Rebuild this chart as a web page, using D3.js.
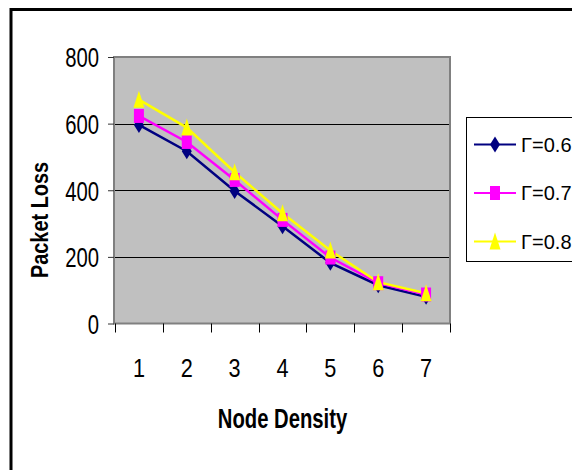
<!DOCTYPE html>
<html>
<head>
<meta charset="utf-8">
<script src="https://cdn.jsdelivr.net/npm/d3@7"></script>
<style>
    body { margin: 0; background: #fff; }
    text { font-family: "Liberation Sans", Arial, sans-serif; fill: #000; }
</style>
</head>
<body>
<div class="output"></div>
<script>
// Данные
const densities = [1, 2, 3, 4, 5, 6, 7];
const yTicks = [0, 200, 400, 600, 800];
const seriesNames = ["Γ=0.6", "Γ=0.7", "Γ=0.8"];
const loss06 = [596, 517, 398, 292, 182, 115, 80];
const loss07 = [623, 545, 431, 311, 198, 121, 87];
const loss08 = [672, 588, 454, 331, 219, 124, 91];

const series = [
    { name: seriesNames[0], values: loss06, color: "#000080", marker: "diamond" },
    { name: seriesNames[1], values: loss07, color: "#ff00ff", marker: "square" },
    { name: seriesNames[2], values: loss08, color: "#ffff00", marker: "triangle" }
];

const width = 572, height = 470;
const plot = { left: 115, right: 450, top: 57, bottom: 323.5 };
// шрифт узкий (Arial Narrow) - сжимаем обычный по горизонтали
const narrow = 0.78;

const svg = d3.select(".output")
    .append("svg")
    .attr("width", width)
    .attr("height", height);

// внешняя рамка (обрезана справа и снизу)
svg.append("rect")
    .attr("x", 11).attr("y", 9.5)
    .attr("width", 700).attr("height", 600)
    .attr("fill", "none")
    .attr("stroke", "#000")
    .attr("stroke-width", 3);

let x = d3.scaleBand()
    .domain(densities)
    .range([plot.left, plot.right])
    .padding(0);

let y = d3.scaleLinear()
    .domain([0, 800])
    .range([plot.bottom, plot.top]);

// Фон области построения
svg.append("rect")
    .attr("x", plot.left).attr("y", plot.top)
    .attr("width", plot.right - plot.left)
    .attr("height", plot.bottom - plot.top)
    .attr("fill", "#c0c0c0");

// Сетка
svg.append("g")
    .selectAll("line")
    .data(yTicks.filter(d => d > 0 && d < 800))
    .enter().append("line")
    .attr("x1", plot.left).attr("x2", plot.right)
    .attr("y1", d => Math.round(y(d)) + 0.5)
    .attr("y2", d => Math.round(y(d)) + 0.5)
    .attr("stroke", "#000")
    .attr("stroke-width", 1);

// рамка области
svg.append("rect")
    .attr("x", plot.left - 1).attr("y", plot.top)
    .attr("width", plot.right - plot.left + 1)
    .attr("height", plot.bottom - plot.top)
    .attr("fill", "none")
    .attr("stroke", "#808080")
    .attr("stroke-width", 2);

// Ось Y
let yAxis = svg.append("g")
    .attr("transform", "translate(" + (plot.left - 1) + ",0)")
    .call(d3.axisLeft(y).tickValues(yTicks).tickSizeInner(6).tickSizeOuter(0));
yAxis.select(".domain").remove();
yAxis.selectAll("line").attr("stroke", "#333");
yAxis.selectAll("text")
    .style("font-size", "26px")
    .attr("x", 0)
    .attr("dy", "0.36em")
    .attr("transform", "translate(-15,0) scale(" + narrow + ",1.05)");

// Ось X
let xAxis = svg.append("g")
    .attr("transform", "translate(0," + plot.bottom + ")")
    .call(d3.axisBottom(x).tickSize(0));
xAxis.select(".domain").remove();
xAxis.selectAll("text")
    .style("font-size", "25.5px")
    .attr("y", 0)
    .attr("dy", 0)
    .attr("transform", "translate(0,53) scale(0.85,1)");

svg.append("g")
    .selectAll("line")
    .data(densities.map(d => x(d)).concat([plot.right]))
    .enter().append("line")
    .attr("x1", d => Math.round(d) + 0.5).attr("x2", d => Math.round(d) + 0.5)
    .attr("y1", plot.bottom).attr("y2", plot.bottom + 9)
    .attr("stroke", "#000");

// Подписи осей
svg.append("text")
    .text("Node Density")
    .attr("transform", "translate(" + ((plot.left + plot.right) / 2) + ",428) scale(0.75,1)")
    .attr("text-anchor", "middle")
    .style("font-size", "27px")
    .style("font-weight", "bold");

svg.append("text")
    .text("Packet Loss")
    .attr("transform", "translate(48,220) rotate(-90) scale(0.83,1)")
    .attr("text-anchor", "middle")
    .style("font-size", "24px")
    .style("font-weight", "bold");

// Маркеры
let markerPath = (type) => {
    if (type === "diamond") return "M0,-8L5,0L0,8L-5,0Z";
    if (type === "square") return "M-5,-7H5V7H-5Z";
    return "M0,-9L5.5,8L-5.5,8Z";
};

// Линии
let line = d3.line()
    .x((d, i) => x(densities[i]) + x.bandwidth() / 2)
    .y(d => y(d));

svg.selectAll("seriesLines")
    .data(series)
    .enter()
    .append("path")
    .attr("d", d => line(d.values))
    .attr("stroke", d => d.color)
    .attr("stroke-width", 2.5)
    .attr("fill", "none");

// Точки
svg.selectAll("seriesDots")
    .data(series)
    .enter()
    .append("g")
    .attr("fill", d => d.color)
    .each(function (s) {
        d3.select(this)
            .selectAll("path")
            .data(s.values)
            .enter()
            .append("path")
            .attr("d", markerPath(s.marker))
            .attr("transform", (d, i) => "translate(" + (x(densities[i]) + x.bandwidth() / 2) + "," + y(d) + ")");
    });

// Легенда
let legend = svg.append("g");
legend.append("rect")
    .attr("x", 466.5).attr("y", 117.5)
    .attr("width", 140).attr("height", 144)
    .attr("fill", "#fff")
    .attr("stroke", "#000");

let items = legend.selectAll("g.item")
    .data(series)
    .enter().append("g")
    .attr("class", "item")
    .attr("transform", (d, i) => "translate(0," + (144.5 + i * 48.5) + ")");

items.append("line")
    .attr("x1", 474).attr("x2", 516)
    .attr("stroke", d => d.color)
    .attr("stroke-width", 2);
items.append("path")
    .attr("d", d => markerPath(d.marker))
    .attr("transform", "translate(495,0)")
    .attr("fill", d => d.color);
items.append("text")
    .text(d => d.name)
    .attr("x", 521)
    .attr("y", 7)
    .style("font-size", "20px");
</script>
</body>
</html>
